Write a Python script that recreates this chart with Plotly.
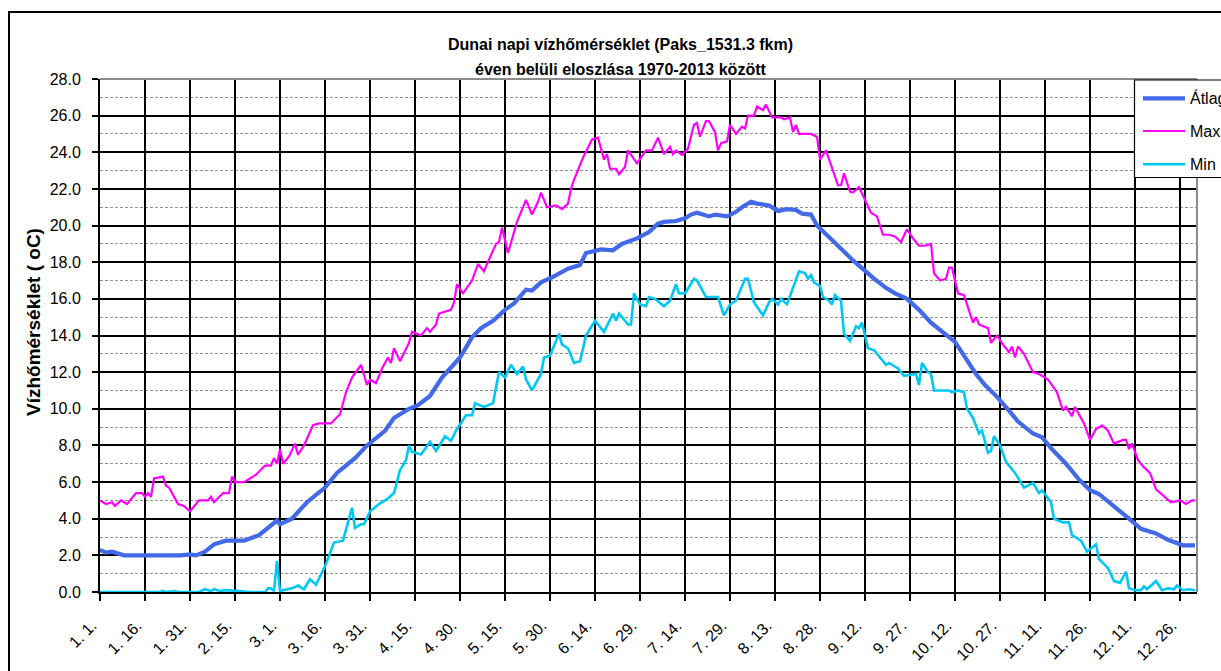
import plotly.graph_objects as go

# Day-of-year index (0 = Jan 1, leap-year calendar) and daily water temperature, °C
avg_days = [0, 2, 4, 6, 8, 12, 15, 20, 24, 27, 30, 32, 35, 38, 42, 48, 53, 57, 59, 60,
            64, 69, 75, 79, 85, 89, 92, 95, 98, 103, 106, 110, 114, 120, 124, 127, 131,
            135, 138, 142, 144, 147, 151, 156, 160, 162, 167, 171, 174, 179, 183, 186,
            188, 192, 195, 197, 199, 202, 203, 205, 209, 212, 214, 217, 219, 223, 226,
            229, 232, 234, 237, 239, 243, 246, 251, 254, 258, 262, 265, 269, 273, 277,
            280, 282, 285, 288, 292, 295, 299, 303, 306, 311, 314, 317, 322, 326, 330,
            333, 338, 343, 347, 352, 356, 361, 365]
avg_vals = [2.3, 2.15, 2.2, 2.1, 2.0, 2.0, 2.0, 2.0, 1.95, 2.0, 2.05, 2.0, 2.2, 2.6, 2.8,
            2.8, 3.1, 3.6, 3.9, 3.7, 4.0, 4.9, 5.7, 6.5, 7.3, 8.0, 8.4, 8.8, 9.5, 10.0,
            10.2, 10.7, 11.7, 12.8, 13.9, 14.4, 14.8, 15.4, 15.75, 16.5, 16.45, 16.9,
            17.2, 17.65, 17.85, 18.5, 18.7, 18.65, 19.0, 19.3, 19.65, 20.1, 20.2, 20.25,
            20.4, 20.6, 20.7, 20.55, 20.5, 20.6, 20.5, 20.75, 21.0, 21.3, 21.2, 21.1,
            20.8, 20.9, 20.85, 20.65, 20.6, 20.0, 19.4, 18.9, 18.1, 17.65, 17.1, 16.6,
            16.3, 16.0, 15.4, 14.7, 14.3, 14.0, 13.65, 12.9, 11.9, 11.3, 10.65, 9.9, 9.3,
            8.65, 8.45, 7.85, 7.0, 6.2, 5.55, 5.35, 4.7, 4.0, 3.45, 3.2, 2.85, 2.55, 2.55]

max_days = [0, 2, 4, 5, 7, 9, 12, 14, 15, 16, 17, 18, 21, 22, 23, 26, 28, 30, 33, 36, 37,
            38, 41, 43, 44, 45, 48, 50, 52, 55, 57, 58, 59, 60, 61, 63, 65, 66, 68, 71, 73,
            75, 77, 80, 82, 84, 87, 89, 90, 92, 94, 96, 97, 98, 100, 103, 104, 107, 109,
            110, 112, 113, 117, 118, 119, 121, 124, 126, 128, 129, 132, 133, 134, 136,
            139, 142, 144, 146, 147, 149, 152, 154, 156, 157, 158, 161, 164, 166, 168,
            169, 170, 172, 173, 175, 176, 179, 182, 184, 186, 188, 190, 191, 192, 194,
            196, 198, 199, 200, 202, 203, 205, 206, 207, 209, 210, 212, 214, 215, 216,
            218, 219, 221, 222, 224, 227, 228, 230, 231, 232, 233, 237, 239, 240, 242,
            244, 246, 247, 248, 250, 251, 253, 255, 257, 259, 261, 263, 265, 267, 269,
            271, 273, 275, 277, 278, 280, 282, 283, 284, 286, 288, 291, 292, 293, 296,
            297, 299, 301, 303, 304, 305, 306, 308, 311, 313, 316, 319, 321, 322, 324,
            325, 328, 330, 332, 334, 336, 338, 341, 342, 343, 344, 346, 348, 350, 352,
            354, 357, 360, 362, 364, 365]
max_vals = [5.0, 4.8, 4.9, 4.7, 5.0, 4.8, 5.4, 5.4, 5.2, 5.4, 5.2, 6.2, 6.3, 5.8, 5.7, 4.8,
            4.7, 4.4, 5.0, 5.0, 5.2, 4.9, 5.4, 5.4, 6.3, 6.0, 6.0, 6.2, 6.4, 6.9, 6.9, 7.3,
            7.0, 7.8, 7.0, 7.4, 8.1, 7.5, 8.0, 9.1, 9.2, 9.2, 9.2, 9.7, 10.9, 11.7, 12.4,
            11.3, 11.6, 11.4, 12.2, 12.8, 12.5, 13.3, 12.6, 13.6, 14.2, 14.0, 14.4, 14.2,
            14.6, 15.2, 15.4, 15.8, 16.8, 16.3, 17.0, 17.9, 17.5, 17.9, 19.0, 19.1, 19.9,
            18.5, 20.2, 21.4, 20.6, 21.3, 21.8, 21.0, 21.1, 20.9, 21.2, 22.0, 22.5, 23.7,
            24.7, 24.8, 23.6, 23.9, 23.1, 23.1, 22.8, 23.2, 24.1, 23.4, 24.1, 24.1, 24.8,
            23.9, 24.3, 23.9, 24.1, 23.85, 24.2, 25.5, 25.6, 24.85, 25.7, 25.7, 25.1,
            24.1, 24.5, 24.6, 25.5, 25.0, 25.4, 25.3, 26.0, 26.0, 26.5, 26.3, 26.6, 25.9,
            25.9, 25.8, 25.9, 25.1, 25.5, 25.0, 25.0, 24.85, 23.6, 24.1, 23.2, 22.2, 22.2,
            22.85, 21.85, 21.8, 22.1, 21.4, 20.7, 20.5, 19.5, 19.5, 19.4, 19.1, 19.8,
            19.3, 18.9, 18.9, 19.0, 17.4, 17.0, 17.1, 17.7, 17.7, 16.3, 16.2, 14.7, 15.0,
            14.6, 14.4, 13.6, 14.0, 13.5, 13.1, 13.4, 12.8, 13.4, 13.0, 12.0, 11.9, 11.6,
            10.9, 9.9, 10.1, 9.6, 10.1, 9.2, 8.3, 8.9, 9.1, 8.8, 8.1, 8.3, 8.3, 7.8, 8.1,
            7.2, 6.8, 6.5, 5.6, 5.3, 4.9, 5.0, 4.8, 5.0, 5.0]

min_days = [0, 10, 20, 21, 22, 25, 26, 33, 35, 37, 38, 40, 42, 46, 50, 55, 56, 57, 58, 59,
            60, 61, 63, 64, 66, 68, 70, 72, 75, 78, 81, 84, 85, 87, 88, 90, 93, 96, 98,
            100, 102, 103, 104, 107, 110, 112, 115, 117, 119, 122, 124, 125, 128, 131,
            133, 135, 137, 139, 141, 142, 144, 147, 148, 150, 153, 154, 156, 158, 160,
            162, 165, 168, 171, 172, 173, 176, 177, 178, 180, 182, 183, 185, 188, 190,
            192, 193, 195, 198, 199, 202, 206, 208, 210, 212, 215, 216, 218, 221, 223,
            224, 226, 227, 229, 232, 233, 235, 236, 237, 238, 240, 241, 243, 244, 245,
            247, 248, 250, 252, 253, 254, 256, 258, 262, 263, 266, 268, 271, 272, 273,
            274, 276, 277, 278, 283, 284, 286, 288, 289, 291, 293, 294, 296, 297, 298,
            300, 302, 305, 307, 308, 311, 313, 314, 317, 318, 321, 323, 324, 327, 329,
            332, 333, 336, 338, 340, 342, 343, 345, 347, 348, 349, 352, 354, 356, 358,
            359, 361, 363, 365]
min_vals = [0.0, 0.0, 0.0, 0.06, 0.0, 0.05, 0.0, 0.0, 0.15, 0.05, 0.15, 0.05, 0.1, 0.05,
            0.0, 0.0, 0.2, 0.2, 0.05, 1.7, 0.05, 0.1, 0.15, 0.2, 0.35, 0.15, 0.7, 0.4, 1.4,
            2.7, 2.8, 4.6, 3.5, 3.7, 3.7, 4.4, 4.8, 5.1, 5.4, 6.65, 7.2, 8.0, 7.65, 7.5,
            8.2, 7.7, 8.5, 8.25, 8.9, 9.65, 9.65, 10.3, 10.1, 10.3, 12.0, 11.7, 12.4,
            11.9, 12.3, 11.6, 11.0, 11.9, 12.8, 12.9, 14.1, 13.5, 13.3, 12.5, 12.6, 14.0,
            14.8, 14.2, 15.2, 14.8, 15.2, 14.6, 14.6, 16.3, 15.7, 15.6, 16.1, 16.0, 15.6,
            15.9, 16.8, 16.3, 16.3, 17.1, 17.0, 16.1, 16.1, 15.1, 15.7, 15.9, 17.1, 17.1,
            15.8, 15.1, 15.8, 16.0, 15.7, 16.0, 15.7, 17.1, 17.5, 17.4, 17.1, 17.3, 16.9,
            16.7, 16.1, 15.9, 15.7, 16.2, 15.9, 14.1, 13.7, 14.5, 14.4, 14.7, 13.3, 13.2,
            12.4, 12.5, 12.2, 11.8, 11.9, 11.9, 11.3, 12.5, 12.0, 11.9, 11.0, 11.0, 10.9,
            11.0, 10.9, 10.0, 9.5, 8.65, 8.8, 7.6, 7.7, 8.5, 8.0, 7.1, 6.5, 6.0, 5.7, 5.95,
            5.4, 5.55, 4.9, 4.0, 3.8, 3.8, 3.1, 2.8, 2.2, 2.6, 1.8, 1.3, 0.6, 0.5, 1.1, 0.2,
            0.1, 0.1, 0.3, 0.15, 0.6, 0.1, 0.2, 0.15, 0.35, 0.1, 0.15, 0.1]

tick_days = list(range(0, 361, 15))
tick_labels = ["1. 1.", "1. 16.", "1. 31.", "2. 15.", "3. 1.", "3. 16.", "3. 31.",
               "4. 15.", "4. 30.", "5. 15.", "5. 30.", "6. 14.", "6. 29.", "7. 14.",
               "7. 29.", "8. 13.", "8. 28.", "9. 12.", "9. 27.", "10. 12.", "10. 27.",
               "11. 11.", "11. 26.", "12. 11.", "12. 26."]

series_names = ["Átlag", "Max", "Min"]
series_colors = ["#4169E8", "#FF00FF", "#00C8F5"]
series_widths = [4.2, 2.2, 2.6]

FONT = "Liberation Sans, Arial, sans-serif"
W, H = 1221, 671
PL, PR, PT, PB = 100, 1197, 79, 592          # plot-area edges in pixels
X_MAX = (PR - PL) / 3.0                      # 3 px per day


def px_x(x):
    return (x - PL) / (PR - PL)


def px_y(y):
    return (PB - y) / (PB - PT)


fig = go.Figure()
series = [(avg_days, avg_vals), (max_days, max_vals), (min_days, min_vals)]
# draw Min and Max first so the mean line sits on top
for i in [2, 1, 0]:
    d, v = series[i]
    fig.add_trace(go.Scatter(
        x=d, y=v, mode="lines", name=series_names[i], showlegend=False,
        line=dict(color=series_colors[i], width=series_widths[i]),
    ))

shapes = []
# outer chart border
shapes.append(dict(type="rect", xref="paper", yref="paper",
                   x0=px_x(9), x1=px_x(W + 40), y0=px_y(H + 40), y1=px_y(12),
                   line=dict(color="black", width=2), fillcolor="rgba(0,0,0,0)",
                   layer="below"))
# grey top and right frame of the plot area
shapes.append(dict(type="line", xref="paper", yref="paper", x0=0, x1=1, y0=1, y1=1,
                   line=dict(color="#8C8C8C", width=2), layer="above"))
shapes.append(dict(type="line", xref="paper", yref="paper", x0=1, x1=1, y0=0, y1=1,
                   line=dict(color="#8C8C8C", width=2), layer="above"))
# legend box
shapes.append(dict(type="rect", xref="paper", yref="paper",
                   x0=px_x(1134.5), x1=px_x(W + 40), y0=px_y(177.5), y1=px_y(80),
                   line=dict(color="black", width=1.2), fillcolor="white", layer="above"))

annotations = []
legend_rows = [98.3, 131.0, 164.3]
for i, yrow in enumerate(legend_rows):
    shapes.append(dict(type="line", xref="paper", yref="paper",
                       x0=px_x(1143), x1=px_x(1185), y0=px_y(yrow), y1=px_y(yrow),
                       line=dict(color=series_colors[i], width=series_widths[i]),
                       layer="above"))
    annotations.append(dict(xref="paper", yref="paper", x=px_x(1188), y=px_y(yrow),
                            xanchor="left", yanchor="middle", showarrow=False,
                            text=series_names[i],
                            font=dict(family=FONT, size=16, color="black")))

# chart title (two lines)
annotations.append(dict(xref="paper", yref="paper", x=px_x(620), y=px_y(44),
                        xanchor="center", yanchor="middle", showarrow=False,
                        text="<b>Dunai napi vízhőmérséklet (Paks_1531.3 fkm)</b>",
                        font=dict(family=FONT, size=16, color="black")))
annotations.append(dict(xref="paper", yref="paper", x=px_x(620), y=px_y(70),
                        xanchor="center", yanchor="middle", showarrow=False,
                        text="<b>éven belüli eloszlása 1970-2013 között</b>",
                        font=dict(family=FONT, size=16, color="black")))
# y-axis title
annotations.append(dict(xref="paper", yref="paper", x=px_x(33), y=px_y(322),
                        xanchor="center", yanchor="middle", showarrow=False,
                        textangle=-90, text="<b>Vízhőmérséklet ( oC)</b>",
                        font=dict(family=FONT, size=19, color="black")))

fig.update_layout(
    width=W, height=H,
    margin=dict(l=PL, r=W - PR, t=PT, b=H - PB, autoexpand=False),
    paper_bgcolor="white", plot_bgcolor="white",
    font=dict(family=FONT, size=16, color="black"),
    shapes=shapes, annotations=annotations,
    showlegend=False,
    xaxis=dict(
        range=[0, X_MAX], tickmode="array", tickvals=tick_days, ticktext=tick_labels,
        tickangle=-45, ticks="outside", ticklen=7, tickwidth=1.5, tickcolor="black",
        showgrid=True, gridcolor="black", gridwidth=1.5,
        showline=True, linecolor="black", linewidth=2, zeroline=False,
        ticklabelstandoff=9, ticklabelshift=-8,
        tickfont=dict(family=FONT, size=16, color="black"),
    ),
    yaxis=dict(
        range=[0, 28], tickmode="linear", tick0=0, dtick=2, tickformat=".1f",
        ticks="outside", ticklen=6, tickwidth=1.5, tickcolor="black",
        showgrid=True, gridcolor="black", gridwidth=1.5,
        minor=dict(dtick=1, tick0=0, showgrid=True, gridcolor="#909090",
                   griddash="3px,2px", gridwidth=1, ticks=""),
        showline=True, linecolor="black", linewidth=2, zeroline=False,
        ticklabelstandoff=8,
        tickfont=dict(family=FONT, size=16, color="black"),
    ),
)

fig.write_html("out.html")
